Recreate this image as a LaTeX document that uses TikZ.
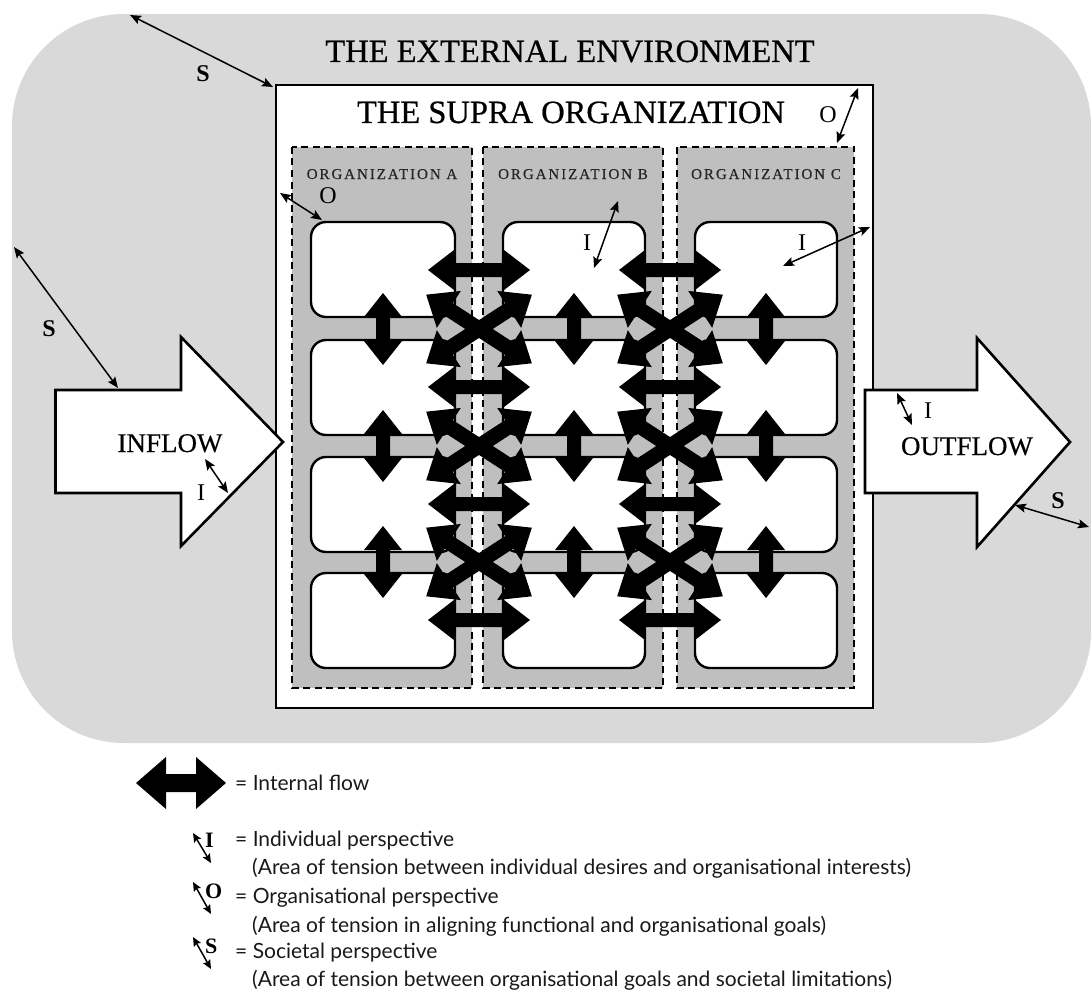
\documentclass[tikz,border=0pt]{standalone}
\usepackage{fontspec}
\setmainfont{Liberation Serif}
\newfontfamily\legendfont{Lato}
\usetikzlibrary{arrows.meta}

\definecolor{envgray}{RGB}{217,217,217}
\definecolor{orggray}{RGB}{191,191,191}

\begin{document}
\begin{tikzpicture}[x=1pt,y=-1pt,
  cellbox/.style={draw, line width=2.4pt, fill=white, rounded corners=15pt,
    inner sep=0pt, outer sep=0pt, anchor=north west, minimum height=95pt},
  orgbox/.style={fill=orggray, draw, line width=2.4pt, dash pattern=on 7pt off 4.5pt},
  blockflow/.style={draw, line width=2.6pt, fill=white, line join=miter},
  perspective/.style={line width=1.5pt, {Stealth[length=11pt,width=9pt,inset=2pt]}-{Stealth[length=11pt,width=9pt,inset=2pt]}},
  smallperspective/.style={line width=1.5pt, {Stealth[length=9pt,width=8pt,inset=1.5pt]}-{Stealth[length=9pt,width=8pt,inset=1.5pt]}},
  title/.style={font=\fontsize{32.5}{36}\selectfont\addfontfeature{FakeBold=0.6}, inner sep=0pt, anchor=base},
  orglabel/.style={font=\fontsize{15}{16}\selectfont\addfontfeature{LetterSpace=13,FakeBold=0.4}, text=black!85, inner sep=0pt, anchor=base},
  flowlabel/.style={font=\fontsize{27}{30}\selectfont\addfontfeature{FakeBold=0.4}, inner sep=0pt, anchor=base},
  letter/.style={font=\fontsize{24}{28}\selectfont, inner sep=0pt, anchor=base},
  boldletter/.style={font=\fontsize{24}{28}\selectfont\bfseries, inner sep=0pt, anchor=base},
  legletter/.style={font=\fontsize{22}{24}\selectfont\bfseries, inner sep=0pt, anchor=base west},
  legtext/.style={font=\legendfont\fontsize{21}{24}\selectfont, text=black!90, inner sep=0pt, anchor=west},
  pics/dbl/.style n args={4}{code={
    \fill[black] (-#1,0) -- ({-#1+#2},#3) -- ({-#1+#2},#4) -- ({#1-#2},#4)
      -- ({#1-#2},#3) -- (#1,0) -- ({#1-#2},-#3) -- ({#1-#2},-#4)
      -- ({-#1+#2},-#4) -- ({-#1+#2},-#3) -- cycle;
  }}
]
\useasboundingbox (0,0) rectangle (1091,995);

% external environment
\fill[envgray, rounded corners=112pt] (12,14) rectangle (1091,743);
\node[title] (envtitle) at (570,62) {THE EXTERNAL ENVIRONMENT};

% supra organization
\draw[line width=2.6pt, fill=white] (276,85) rectangle (873,708);
\node[title] (supratitle) at (571,123) {THE SUPRA ORGANIZATION};

% member organizations
\draw[orgbox] (292,147) rectangle (472,688);
\draw[orgbox] (483,147) rectangle (663,688);
\draw[orgbox] (677,147) rectangle (854,688);
\node[orglabel] (orgA) at (382,179) {ORGANIZATION A};
\node[orglabel] (orgB) at (573,179) {ORGANIZATION B};
\node[orglabel] (orgC) at (766,179) {ORGANIZATION C};

% functional units
\foreach \col/\x/\w in {a/311/144, b/503/142, c/695/142}
  \foreach \r/\y in {1/222, 2/340, 3/457, 4/573}
    \node[cellbox, minimum width=\w pt] (\col\r) at (\x,\y) {};

% inflow and outflow
\draw[blockflow] (55.5,390) -- (181,390) -- (181,337) -- (283,442)
  -- (181,546) -- (181,493) -- (55.5,493) -- cycle;
\draw[blockflow] (865,390) -- (977,390) -- (977,338) -- (1070,442)
  -- (977,547) -- (977,493) -- (865,493) -- cycle;
\node[flowlabel] (inflow) at (170,452) {INFLOW};
\node[flowlabel] (outflow) at (967,455) {OUTFLOW};

% internal flows: within each organization
\foreach \x in {383, 574, 766}
  \foreach \y in {329, 446, 562}
    \pic[rotate=90] at (\x,\y) {dbl={36}{24}{19}{7}};
% internal flows: between organizations
\foreach \x in {479, 670} {
  \foreach \y in {270, 387, 504, 620}
    \pic at (\x,\y) {dbl={51}{26}{20}{7}};
  \foreach \y in {329, 446, 562} {
    \pic[rotate=33] at (\x,\y) {dbl={63}{27}{22}{7.5}};
    \pic[rotate=-33] at (\x,\y) {dbl={63}{27}{22}{7.5}};
  }
}

% perspectives
\coordinate (s1a) at (130,15);   \coordinate (s1b) at (273,87);
\coordinate (s2a) at (14,247);   \coordinate (s2b) at (118,388);
\coordinate (s3a) at (1015,505); \coordinate (s3b) at (1089,527);
\coordinate (i1a) at (205,459);  \coordinate (i1b) at (228,493);
\coordinate (i2a) at (618,201);  \coordinate (i2b) at (594,268);
\coordinate (i3a) at (870,227);  \coordinate (i3b) at (783,266);
\coordinate (i4a) at (897,393);  \coordinate (i4b) at (912,425);
\coordinate (o1a) at (858,88);   \coordinate (o1b) at (837,143);
\coordinate (o2a) at (280,193);  \coordinate (o2b) at (322,220);
\foreach \p in {s1, s2, s3, i1, i2, i3, i4, o1, o2}
  \draw[perspective] (\p a) -- (\p b);

\node[boldletter] (s1) at (203,82) {S};
\node[boldletter] (s2) at (49,336) {S};
\node[boldletter] (s3) at (1058,508) {S};
\node[letter] (i1) at (201,500) {I};
\node[letter] (i2) at (587,250) {I};
\node[letter] (i3) at (802,250) {I};
\node[letter] (i4) at (928,418) {I};
\node[letter] (o1) at (828,123) {O};
\node[letter] (o2) at (328,203) {O};

% legend
\pic at (181,783) {dbl={45}{30}{26}{9}};
\node[legtext] (lflow) at (235,783) {= Internal flow};

\coordinate (li1) at (193,833); \coordinate (li2) at (211,863);
\coordinate (lo1) at (193,882); \coordinate (lo2) at (211,914);
\coordinate (ls1) at (193,937); \coordinate (ls2) at (211,969);
\draw[smallperspective] (li1) -- (li2);
\draw[smallperspective] (lo1) -- (lo2);
\draw[smallperspective] (ls1) -- (ls2);
\node[legletter] (lI) at (205,847) {I};
\node[legletter] (lO) at (205,898) {O};
\node[legletter] (lS) at (205,953) {S};

\node[legtext] (lind) at (235,841) {= Individual perspective};
\node[legtext] (lindx) at (252,868) {(Area of tension between individual desires and organisational interests)};
\node[legtext] (lorg) at (235,898) {= Organisational perspective};
\node[legtext] (lorgx) at (252,926) {(Area of tension in aligning functional and organisational goals)};
\node[legtext] (lsoc) at (235,953) {= Societal perspective};
\node[legtext] (lsocx) at (252,980) {(Area of tension between organisational goals and societal limitations)};
\end{tikzpicture}
\end{document}
